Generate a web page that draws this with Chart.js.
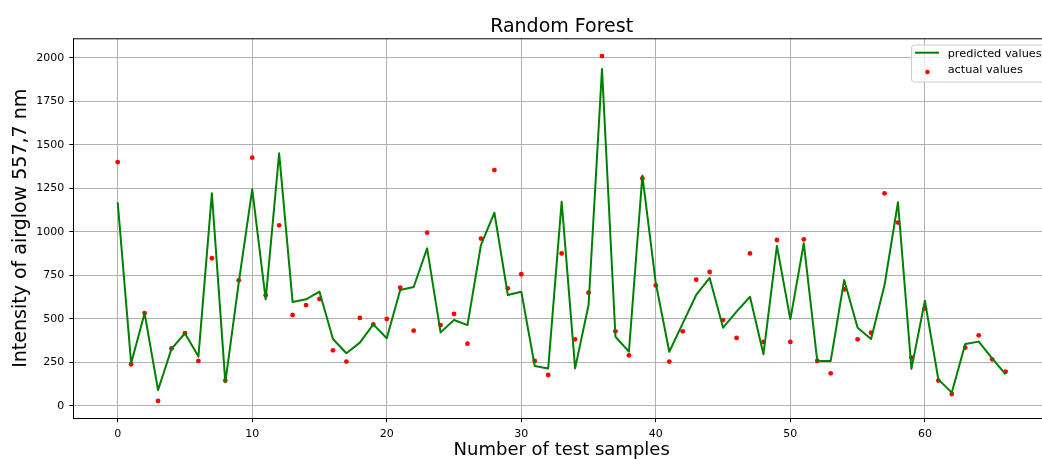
<!DOCTYPE html>
<html><head><meta charset="utf-8">
<script src="https://cdn.jsdelivr.net/npm/chart.js@4.4.0/dist/chart.umd.min.js"></script>
<style>
html,body{margin:0;padding:0;background:#fff;overflow:hidden;}
#wrap{width:1042px;height:459px;overflow:hidden;position:relative;background:#fff;}
canvas{display:block;}
</style></head><body>
<div id="wrap"><canvas id="c" width="1060" height="459"></canvas></div>
<script>
const sampleIndex = [0,1,2,3,4,5,6,7,8,9,10,11,12,13,14,15,16,17,18,19,20,21,22,23,24,25,26,27,28,29,30,31,32,33,34,35,36,37,38,39,40,41,42,43,44,45,46,47,48,49,50,51,52,53,54,55,56,57,58,59,60,61,62,63,64,65,66];
const predictedValues = [1171,245,533,92,328,418,284,1222,136,710,1245,613,1452,598,613,657,385,303,364,469,389,667,684,906,423,494,465,925,1111,638,657,230,216,1174,216,580,1937,398,312,1324,705,312,475,638,736,450,542,628,297,920,498,935,259,259,724,450,385,695,1171,213,605,153,77,356,370,274,182];
const actualValues = [1402,240,534,29,331,418,259,849,146,722,1427,636,1038,523,580,615,320,255,506,469,500,680,433,996,465,529,358,962,1356,676,757,259,178,877,383,651,2011,429,291,1308,693,255,429,726,770,494,391,877,368,954,368,958,259,188,670,383,421,1222,1054,278,561,146,69,335,406,268,197];
const xTickValues = [0,10,20,30,40,50,60];
const yTickValues = [0,250,500,750,1000,1250,1500,1750,2000];
const seriesNames = ['predicted values','actual values'];
const chartTitle = 'Random Forest';
const xAxisTitle = 'Number of test samples';
const yAxisTitle = 'Intensity of airglow 557,7 nm';

Chart.defaults.font.family = "'DejaVu Sans', sans-serif";
Chart.defaults.color = '#000';

const framePlugin = {
  id: 'frame',
  afterDatasetsDraw(chart) {
    const {ctx, chartArea: a} = chart;
    ctx.save();
    ctx.strokeStyle = '#000';
    ctx.lineWidth = 1;
    ctx.beginPath();
    ctx.moveTo(a.left, a.top + 0.5);
    ctx.lineTo(a.right, a.top + 0.5);
    ctx.lineTo(a.right, a.bottom);
    ctx.stroke();
    ctx.restore();
  }
};

const legendPlugin = {
  id: 'mplLegend',
  afterDraw(chart) {
    const {ctx} = chart;
    const x = 911.5, y = 45, w = 140, h = 37, r = 3;
    ctx.save();
    ctx.beginPath();
    ctx.moveTo(x + r, y);
    ctx.lineTo(x + w - r, y);
    ctx.arcTo(x + w, y, x + w, y + r, r);
    ctx.lineTo(x + w, y + h - r);
    ctx.arcTo(x + w, y + h, x + w - r, y + h, r);
    ctx.lineTo(x + r, y + h);
    ctx.arcTo(x, y + h, x, y + h - r, r);
    ctx.lineTo(x, y + r);
    ctx.arcTo(x, y, x + r, y, r);
    ctx.closePath();
    ctx.fillStyle = 'rgba(255,255,255,0.8)';
    ctx.fill();
    ctx.strokeStyle = '#cccccc';
    ctx.lineWidth = 1;
    ctx.stroke();
    ctx.strokeStyle = chart.data.datasets[0].borderColor;
    ctx.lineWidth = 2;
    ctx.beginPath();
    ctx.moveTo(915, 52.7);
    ctx.lineTo(939, 52.7);
    ctx.stroke();
    ctx.fillStyle = chart.data.datasets[1].backgroundColor;
    ctx.beginPath();
    ctx.arc(927.5, 72, 2.3, 0, Math.PI * 2);
    ctx.fill();
    ctx.fillStyle = '#000';
    ctx.font = "11.3px 'DejaVu Sans'";
    ctx.textBaseline = 'middle';
    ctx.textAlign = 'left';
    ctx.fillText(chart.data.datasets[0].label, 947.7, 53.6);
    ctx.fillText(chart.data.datasets[1].label, 947.7, 70.3);
    ctx.restore();
  }
};

new Chart(document.getElementById('c'), {
  type: 'scatter',
  data: {
    datasets: [
      {
        label: seriesNames[0],
        data: sampleIndex.map((x, i) => ({x, y: predictedValues[i]})),
        showLine: true,
        borderColor: '#008000',
        backgroundColor: '#008000',
        borderWidth: 2,
        borderJoinStyle: 'round',
        borderCapStyle: 'butt',
        pointRadius: 0,
        tension: 0
      },
      {
        label: seriesNames[1],
        data: sampleIndex.map((x, i) => ({x, y: actualValues[i]})),
        showLine: false,
        borderColor: '#ff0000',
        backgroundColor: '#ff0000',
        borderWidth: 0,
        pointRadius: 2.4
      }
    ]
  },
  options: {
    responsive: false,
    animation: false,
    events: [],
    layout: {padding: {top: 0, right: 10, left: 0, bottom: 0}},
    plugins: {
      legend: {display: false},
      tooltip: {enabled: false},
      title: {
        display: true,
        text: chartTitle,
        fullSize: false,
        color: '#000',
        font: {size: 19, weight: 'normal', lineHeight: 1},
        padding: {top: 17.5, bottom: 1.8}
      }
    },
    scales: {
      x: {
        type: 'linear',
        min: -3.3,
        max: 69.3,
        afterFit(s) { s.height = 40.7; },
        afterBuildTicks(s) { s.ticks = xTickValues.map(v => ({value: v})); },
        ticks: {
          font: {size: 11},
          color: '#000',
          padding: 5,
          maxRotation: 0,
          callback: v => String(v)
        },
        grid: {color: '#b0b0b0', lineWidth: 1, tickLength: 4, tickColor: '#000'},
        border: {color: '#000', width: 1},
        title: {
          display: true,
          text: xAxisTitle,
          color: '#000',
          font: {size: 18, lineHeight: 1},
          padding: {top: 0, bottom: 0}
        }
      },
      y: {
        type: 'linear',
        min: -70.7,
        max: 2113,
        afterFit(s) { s.width = 73.3; },
        afterBuildTicks(s) { s.ticks = yTickValues.map(v => ({value: v})); },
        ticks: {
          font: {size: 11},
          color: '#000',
          padding: 5,
          callback: v => String(v)
        },
        grid: {color: '#b0b0b0', lineWidth: 1, tickLength: 4, tickColor: '#000'},
        border: {color: '#000', width: 1},
        title: {
          display: true,
          text: yAxisTitle,
          color: '#000',
          font: {size: 19, lineHeight: 1},
          padding: {top: 11.5, bottom: 0}
        }
      }
    }
  },
  plugins: [framePlugin, legendPlugin]
});
</script>
</body></html>
